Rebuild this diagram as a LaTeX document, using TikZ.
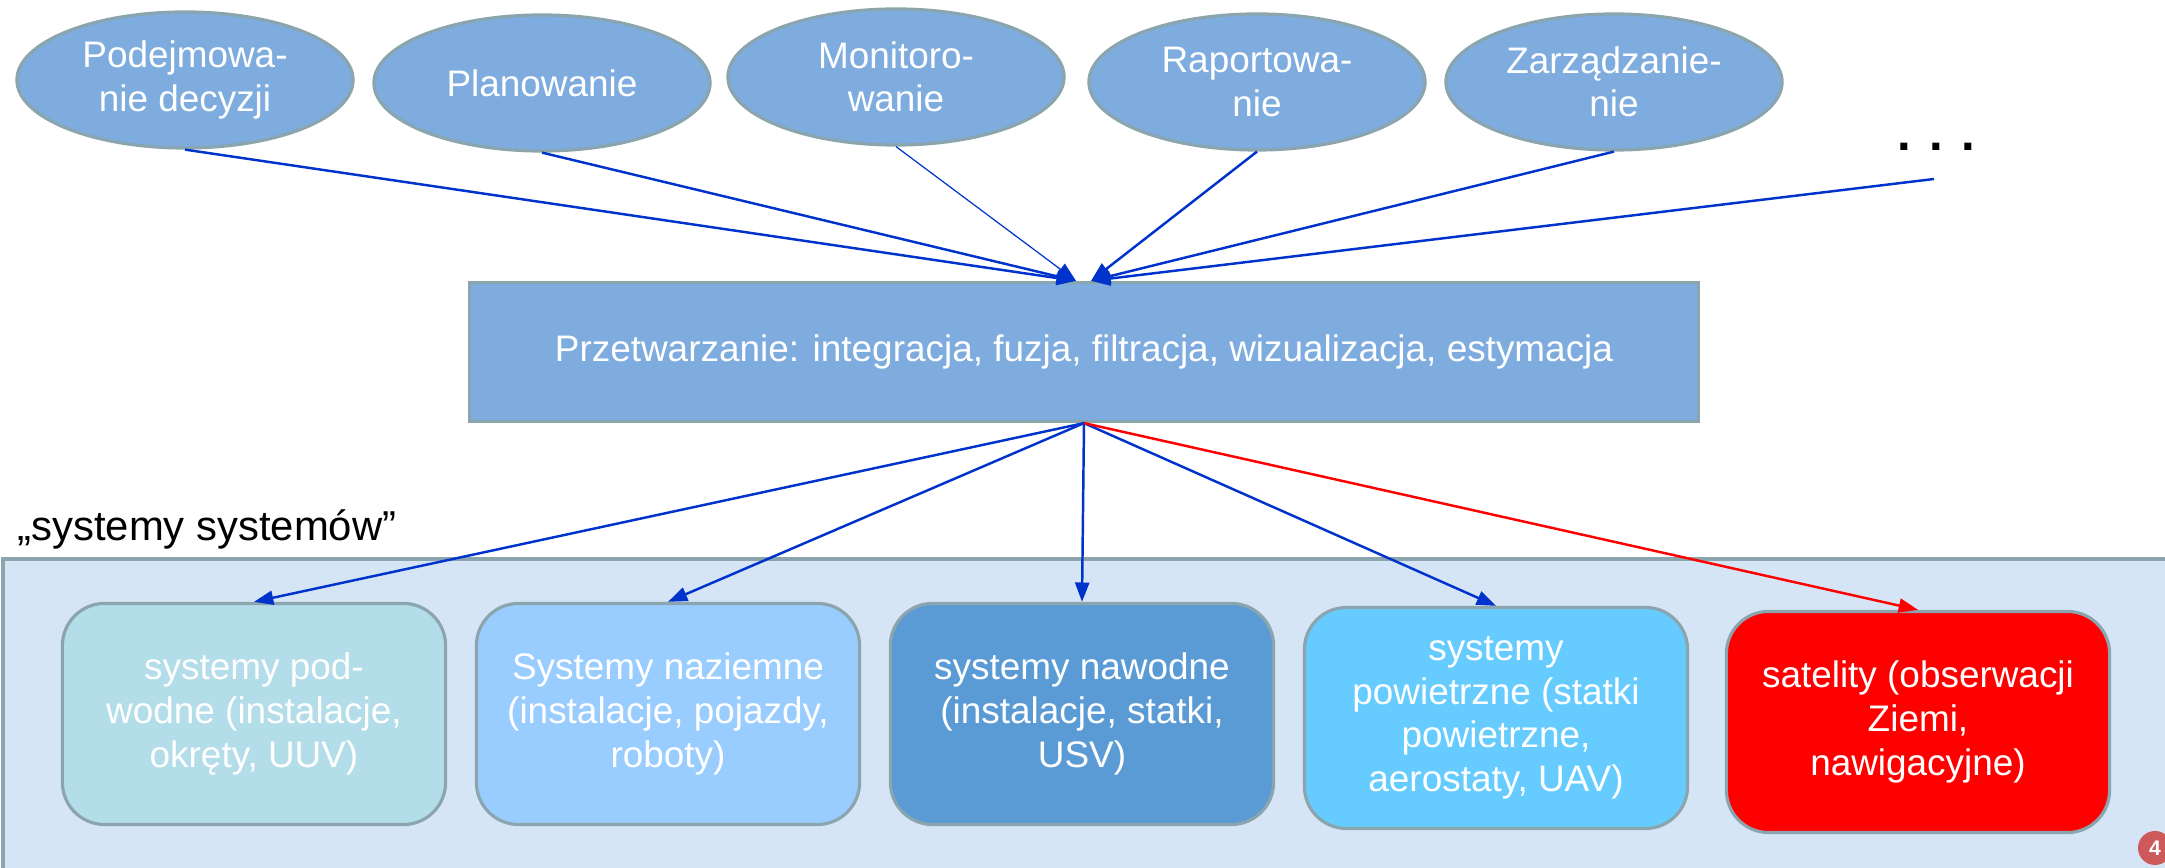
\documentclass[tikz,border=0pt]{standalone}
\usepackage{fontspec}
\setmainfont{Liberation Sans}
\usetikzlibrary{arrows.meta, positioning, shapes, calc}

\definecolor{ellblue}{RGB}{126,172,222}
\definecolor{rimgray}{RGB}{139,165,174}
\definecolor{bgblue}{RGB}{214,229,245}
\definecolor{subblue}{RGB}{180,221,234}
\definecolor{landblue}{RGB}{153,204,255}
\definecolor{waterblue}{RGB}{91,155,213}
\definecolor{airblue}{RGB}{102,204,255}
\definecolor{arrowblue}{RGB}{0,51,204}
\definecolor{pagered}{RGB}{204,90,90}

\begin{document}
\begin{tikzpicture}
[
    x=0.01cm, y=-0.01cm,
    font=\fontsize{10.5pt}{12.4pt}\selectfont,
    task/.style={
        draw=rimgray,
        line width=0.9pt,
        fill=ellblue,
        ellipse,
        minimum width=3.36cm,
        minimum height=1.36cm,
        inner sep=0pt,
        text=white,
        align=center,
    },
    proc/.style={
        draw=rimgray,
        line width=0.9pt,
        fill=ellblue,
        rectangle,
        minimum width=12.29cm,
        minimum height=1.39cm,
        text=white,
        align=center,
    },
    box/.style={
        draw=rimgray,
        line width=0.9pt,
        rectangle,
        rounded corners=12pt,
        minimum width=3.83cm,
        minimum height=2.21cm,
        text=white,
        align=center,
    },
    arrow/.style={-{Triangle[length=5.5pt,width=4pt]}, line width=0.7pt, draw=arrowblue}
]

\useasboundingbox (0,0) rectangle (2165,868);
\clip (0,0) rectangle (2165,868);

% Background of the lower part
\draw[draw=rimgray, line width=0.9pt, fill=bgblue] (3,559) rectangle (2185,885);
\node[anchor=west, font=\fontsize{11.9pt}{12pt}\selectfont] (sostitle) at (5,529) {„systemy systemów”};

% Define the nodes
\node[task] (top1) at (185,80) {Podejmowa-\\nie decyzji};
\node[task] (top2) at (542,83) {Planowanie};
\node[task] (top3) at (896,77) {Monitoro-\\wanie};
\node[task] (top4) at (1257,82) {Raportowa-\\nie};
\node[task] (top5) at (1614,82) {Zarządzanie-\\nie};
\node[anchor=base, font=\fontsize{14pt}{14pt}\selectfont\bfseries] (more) at (1936,151) {. . .};
\coordinate (moreend) at (1934,179);

\node[proc] (proc) at (1084,352) {Przetwarzanie: integracja, fuzja, filtracja, wizualizacja, estymacja};
\coordinate (inL) at ($(proc.north)+(-8,0)$);
\coordinate (inR) at ($(proc.north)+(7,0)$);

\node[box, fill=subblue] (sys1) at (254,714) {systemy pod-\\wodne (instalacje,\\okręty, UUV)};
\node[box, fill=landblue] (sys2) at (668,714) {Systemy naziemne\\(instalacje, pojazdy,\\roboty)};
\node[box, fill=waterblue] (sys3) at (1082,714) {systemy nawodne\\(instalacje, statki,\\USV)};
\node[box, fill=airblue] (sys4) at (1496,718) {systemy\\powietrzne (statki\\powietrzne,\\aerostaty, UAV)};
\node[box, fill=red] (sys5) at (1918,722) {satelity (obserwacji\\Ziemi,\\nawigacyjne)};

\node[circle, fill=pagered, minimum size=0.34cm, inner sep=0pt, text=white, font=\fontsize{6pt}{6pt}\selectfont\bfseries] (pageno) at (2155,848) {4};

% Arrows into the processing box
\draw[arrow] (top1.south) -- (inL);
\draw[arrow] (top2.south) -- (inL);
\draw[arrow, line width=0.35pt] (top3.south) -- (inL);
\draw[arrow] (top4.south) -- (inR);
\draw[arrow] (top5.south) -- (inR);
\draw[arrow] (moreend) -- (inR);

% Arrows down to the systems
\draw[arrow] (proc.south) -- (sys1.north);
\draw[arrow] (proc.south) -- (sys2.north);
\draw[arrow] (proc.south) -- (sys3.north);
\draw[arrow] (proc.south) -- (sys4.north);
\draw[arrow, draw=red] (proc.south) -- (sys5.north);

\end{tikzpicture}
\end{document}
